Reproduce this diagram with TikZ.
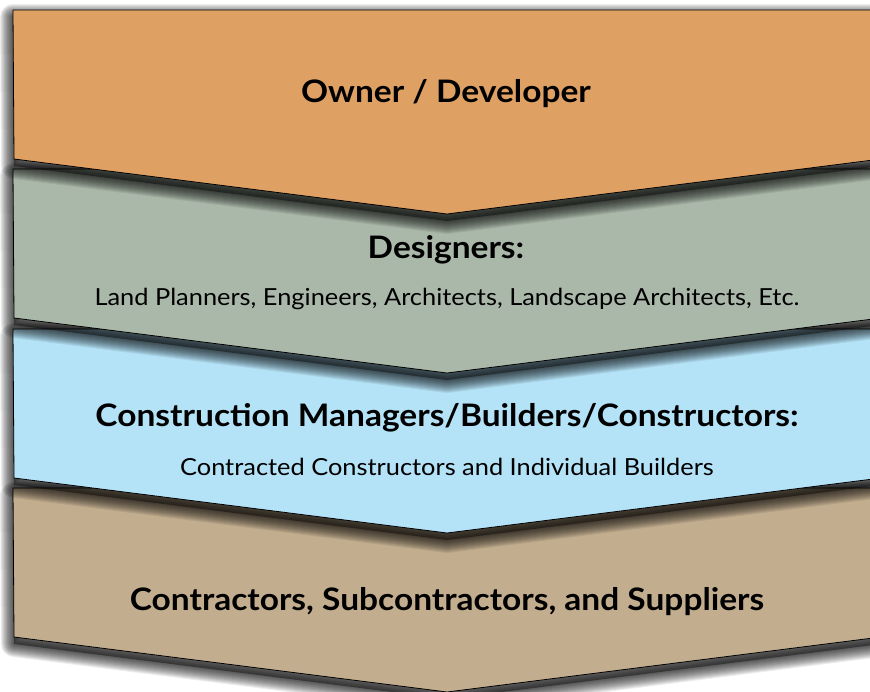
\documentclass[tikz,border=0pt]{standalone}
\usepackage{fontspec}
\setmainfont{Lato}[FakeStretch=1.08]
\definecolor{cOrange}{RGB}{223,160,100}
\definecolor{cGreen}{RGB}{170,184,169}
\definecolor{cBlue}{RGB}{180,226,247}
\definecolor{cTan}{RGB}{194,174,143}
\newcommand\chevshape[1]{(13,#1) -- (881,#1) -- (881,{#1+149}) -- (447,{#1+204}) -- (14,{#1+149}) -- cycle}
\tikzset{
  chev/.style={draw=black, line width=0.8pt, line join=miter},
  shadowstroke/.style={draw=black, draw opacity=0.07, line join=round},
  ttl/.style={font=\fontsize{31}{36}\selectfont\bfseries, text=black, anchor=center, inner sep=0pt},
  sub/.style={font=\fontsize{23.5}{28}\selectfont, text=black, anchor=center, inner sep=0pt}
}
\begin{document}
\begin{tikzpicture}[x=1pt,y=-1pt]
\useasboundingbox (0,0) rectangle (870,691);
\fill[white] (0,0) rectangle (870,691);
% bottom to top: shadow, then shape
\foreach \t/\c in {488/cTan, 329/cBlue, 169/cGreen, 10/cOrange} {
  \begin{scope}[yshift=-7pt]
    \fill[black, opacity=0.4] \chevshape{\t};
    \foreach \w in {1,...,13} {
      \path[shadowstroke, line width=2*\w pt] \chevshape{\t};
    }
  \end{scope}
  \path[chev, fill=\c] \chevshape{\t};
}
\node[ttl] (owner) at (446,94) {Owner / Developer};
\node[ttl] (des) at (446,250) {Designers:};
\node[sub] (dessub) at (447,299) {Land Planners, Engineers, Architects, Landscape Architects, Etc.};
\node[ttl] (cm) at (447,418) {Construction Managers/Builders/Constructors:};
\node[sub] (cmsub) at (447,467) {Contracted Constructors and Individual Builders};
\node[ttl] (con) at (447,602) {Contractors, Subcontractors, and Suppliers};
\end{tikzpicture}
\end{document}
